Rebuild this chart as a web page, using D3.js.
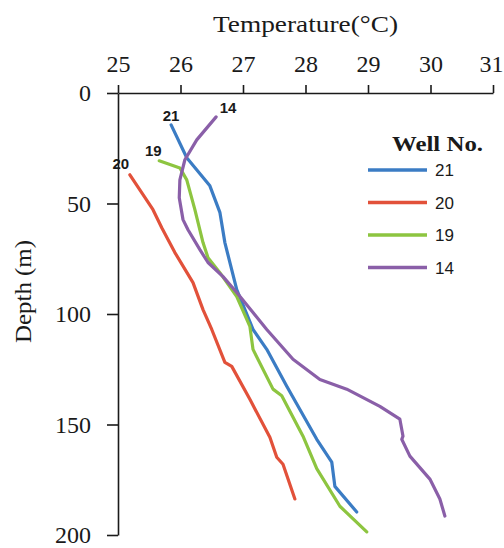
<!DOCTYPE html>
<html>
<head>
<meta charset="utf-8">
<script src="https://cdn.jsdelivr.net/npm/d3@7"></script>
<style>
  body { margin: 0; background: #fff; }
  .axis path, .axis line { stroke: #1a1a1a; stroke-width: 1.6; }
  .axis text { font-family: "Liberation Serif", "Times New Roman", serif; font-size: 24px; fill: #1a1a1a; }
</style>
</head>
<body>
<div id="chart"></div>
<script>
// well temperature profiles (temp in °C, depth in m)
var wells = ["21", "20", "19", "14"];
var colors = ["#3b7cc4", "#e2513a", "#8dc540", "#8a5fa8"];

var temp21 = [25.85, 26.10, 26.47, 26.63, 26.71, 26.90, 27.16, 27.38, 27.70, 28.18, 28.42, 28.47, 28.82];
var depth21 = [14.4, 29.3, 42, 54, 67.7, 89, 107, 116, 132.7, 156.7, 167, 178, 189.6];

var temp20 = [25.19, 25.56, 25.70, 25.91, 26.20, 26.36, 26.50, 26.71, 26.82, 27.11, 27.43, 27.54, 27.64, 27.83];
var depth20 = [37, 52.8, 61, 72.2, 85.8, 98, 107, 121.9, 123.7, 138.6, 155.8, 164.8, 168, 183.7];

var temp19 = [25.66, 25.99, 26.10, 26.23, 26.36, 26.44, 26.63, 26.90, 27.11, 27.16, 27.48, 27.62, 27.96, 28.18, 28.55, 28.98];
var depth19 = [30.7, 33.9, 39.3, 52.8, 67.7, 74.5, 81.3, 92.1, 105.6, 116, 134, 137, 155.3, 170, 187, 198.6];

var temp14 = [26.57, 26.26, 26.07, 25.99, 25.98, 26.04, 26.12, 26.31, 26.44, 26.68, 26.90, 27.16, 27.38, 27.80, 28.23, 28.66, 29.19, 29.51, 29.56, 29.54, 29.67, 29.99, 30.15, 30.23];
var depth14 = [10.8, 21.2, 30.2, 39.3, 47.4, 57.3, 61.9, 70.9, 76.7, 83.1, 90.3, 99.3, 107, 120.5, 129.6, 134, 141.8, 147.6, 155.3, 156.7, 164.3, 174.7, 183.7, 191.4];

var xTicks = [25, 26, 27, 28, 29, 30, 31];
var yTicks = [0, 50, 100, 150, 200];

var width = 504, height = 548;
var padLeft = 118, padTop = 93, plotW = 375, plotH = 442;
var serif = "'Liberation Serif', 'Times New Roman', serif";
var sans = "'Liberation Sans', Arial, sans-serif";

var svg = d3.select("#chart").append("svg")
    .attr("width", width)
    .attr("height", height);

var x = d3.scaleLinear().domain([25, 31]).range([0, plotW]);
var y = d3.scaleLinear().domain([0, 200]).range([0, plotH]);

var g = svg.append("g").attr("transform", "translate(" + padLeft + "," + padTop + ")");

//axes
var xAxisG = g.append("g").attr("class", "axis")
    .call(d3.axisTop(x).tickValues(xTicks).tickSize(8).tickSizeOuter(0).tickPadding(13).tickFormat(d3.format("d")));
// keep the last label inside the window
xAxisG.selectAll(".tick text").filter(function(d) { return d === 31; }).attr("dx", "-2");
g.append("g").attr("class", "axis")
    .call(d3.axisLeft(y).tickValues(yTicks).tickSize(11).tickSizeOuter(0).tickPadding(16).tickFormat(d3.format("d")));

svg.append("text")
    .attr("x", 213)
    .attr("y", 32)
    .attr("textLength", 185)
    .attr("lengthAdjust", "spacingAndGlyphs")
    .style("font-family", serif)
    .style("font-size", "23px")
    .style("fill", "#1a1a1a")
    .text("Temperature(°C)");

svg.append("text")
    .attr("transform", "translate(31,343) rotate(-90)")
    .attr("textLength", 103)
    .attr("lengthAdjust", "spacingAndGlyphs")
    .style("font-family", serif)
    .style("font-size", "24px")
    .style("fill", "#1a1a1a")
    .text("Depth (m)");

//curves
var series = [[temp21, depth21], [temp20, depth20], [temp19, depth19], [temp14, depth14]];
var line = d3.line()
    .x(function(d) { return x(d[0]); })
    .y(function(d) { return y(d[1]); });

series.forEach(function(s, i) {
  var pts = d3.zip(s[0], s[1]);
  g.append("path")
      .datum(pts)
      .attr("d", line)
      .style("fill", "none")
      .style("stroke", colors[i])
      .style("stroke-width", 3.2)
      .style("stroke-linejoin", "round")
      .style("stroke-linecap", "round");
});

// well numbers at the top of each curve
var labOff = [[0, -4], [-9, -6], [-6, -5], [12, -4]];
series.forEach(function(s, i) {
  g.append("text")
      .attr("x", x(s[0][0]) + labOff[i][0])
      .attr("y", y(s[1][0]) + labOff[i][1])
      .attr("text-anchor", "middle")
      .style("font-family", sans)
      .style("font-weight", "bold")
      .style("font-size", "15px")
      .style("fill", "#1a1a1a")
      .text(wells[i]);
});

//legend
var lg = svg.append("g").attr("transform", "translate(368,170)");
lg.append("text")
    .attr("x", 24)
    .attr("y", -19)
    .attr("textLength", 91)
    .attr("lengthAdjust", "spacingAndGlyphs")
    .style("font-family", serif)
    .style("font-weight", "bold")
    .style("font-size", "22px")
    .style("fill", "#1a1a1a")
    .text("Well No.");

var items = lg.selectAll("g.item").data(wells).enter().append("g")
    .attr("class", "item")
    .attr("transform", function(d, i) { return "translate(0," + (i * 32.5) + ")"; });
items.append("line")
    .attr("x1", 0).attr("x2", 59)
    .style("stroke", function(d, i) { return colors[i]; })
    .style("stroke-width", 3.5);
items.append("text")
    .attr("x", 67)
    .attr("dy", "0.36em")
    .style("font-family", sans)
    .style("font-size", "17px")
    .style("fill", "#1a1a1a")
    .text(function(d) { return d; });
</script>
</body>
</html>
